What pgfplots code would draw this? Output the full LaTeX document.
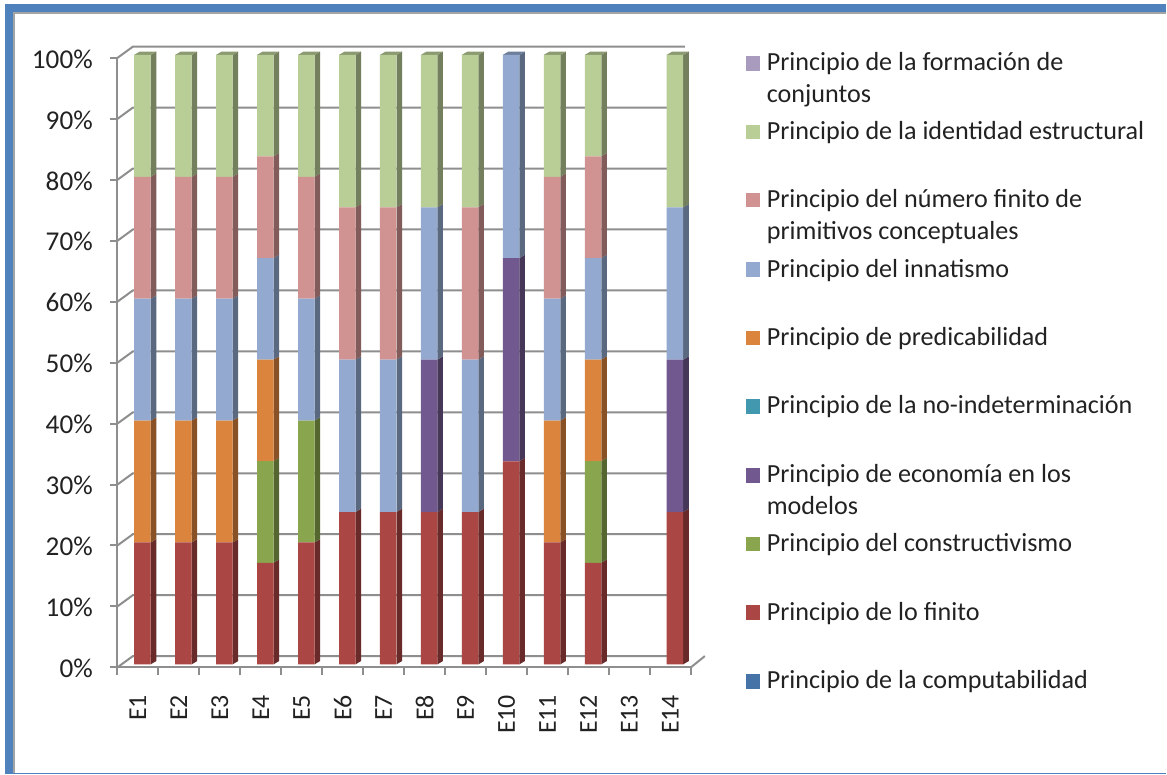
\documentclass[border=0pt]{standalone}
\usepackage{fontspec}
\setmainfont{Carlito}
\usepackage{pgfplots}
\usepackage{pgfplotstable}
\pgfplotsset{compat=1.18}

% face colours of each series: front, side (S) and top (T)
\definecolor{comp}{HTML}{4572A7}
\definecolor{fin}{HTML}{AA4643}
\definecolor{con}{HTML}{89A54E}
\definecolor{eco}{HTML}{71588F}
\definecolor{ind}{HTML}{4198AF}
\definecolor{pre}{HTML}{DB843D}
\definecolor{inn}{HTML}{93A9CF}
\definecolor{num}{HTML}{D19392}
\definecolor{ide}{HTML}{B9CD96}
\definecolor{for}{HTML}{A99BBD}
\definecolor{wall}{HTML}{8E8E8E}
\definecolor{frameblue}{HTML}{4F81BD}
\definecolor{ink}{HTML}{222222}
\pgfplotsinvokeforeach{comp,fin,con,eco,ind,pre,inn,num,ide,for}{
  \colorlet{#1S}{#1!62!black}
  \colorlet{#1T}{#1!75!black}
}

% share of each principle per experiment, in percent
\pgfplotstableread{
name comp fin con eco ind pre inn num ide for
E1 0 20 0 0 0 20 20 20 20 0
E2 0 20 0 0 0 20 20 20 20 0
E3 0 20 0 0 0 20 20 20 20 0
E4 0 16.67 16.67 0 0 16.67 16.67 16.67 16.65 0
E5 0 20 20 0 0 0 20 20 20 0
E6 0 25 0 0 0 0 25 25 25 0
E7 0 25 0 0 0 0 25 25 25 0
E8 0 25 0 25 0 0 25 0 25 0
E9 0 25 0 0 0 0 25 25 25 0
E10 0 33.33 0 33.33 0 0 33.34 0 0 0
E11 0 20 0 0 0 20 20 20 20 0
E12 0 16.67 16.67 0 0 16.67 16.67 16.67 16.65 0
E13 0 0 0 0 0 0 0 0 0 0
E14 0 25 0 25 0 0 25 0 25 0
}\shares

% one pixel of the 1167 x 775 canvas
\newlength{\px}\setlength{\px}{0.75pt}

\newcommand{\legentry}[3]{% colour, y of swatch, text
  \fill[#1] (746.7\px,{-(#2+7.3)*\px}) rectangle (760.3\px,{-(#2-7.3)*\px});
  \node[anchor=base west,inner sep=0pt,text=ink,font=\fontsize{19.6pt}{24pt}\selectfont,align=left]
    at (767.3\px,{-(#2+7.4)*\px}) {#3};
}
\newcommand{\legcont}[2]{% y, continuation line
  \node[anchor=base west,inner sep=0pt,text=ink,font=\fontsize{19.6pt}{24pt}\selectfont]
    at (767.3\px,{-(#1+7.4)*\px}) {#2};
}

\begin{document}
\begin{tikzpicture}[x=1pt,y=1pt]
% canvas and window frame
\path (0,0) rectangle (1167\px,-775\px);
\fill[frameblue] (5\px,-4\px) rectangle (1167\px,-775\px);
\fill[white] (15\px,-14.5\px) rectangle (1167\px,-773.5\px);
\draw[wall!80!white,line width=2.2\px] (14.4\px,-773.5\px) -- (14.4\px,-13.4\px) -- (1167\px,-13.4\px);

% walls, gridlines, ticks, labels and the side and top faces of the columns
\begin{axis}[
  at={(117.5\px,-668\px)},anchor=origin,
  scale only axis,width=574\px,height=610\px,
  xmin=0.5,xmax=14.5,ymin=0,ymax=100,
  clip=false,
  axis lines=left,
  axis line style={wall,line width=2\px,-},
  xtick={1,...,14},
  xticklabels={E1,E2,E3,E4,E5,E6,E7,E8,E9,E10,E11,E12,E13,E14},
  minor xtick={0.5,1.5,...,14.5},
  major x tick style={draw=none},
  minor x tick style={wall,line width=2\px},
  minor tick length=8\px,
  ytick={0,10,...,100},
  yticklabels={0\%,10\%,20\%,30\%,40\%,50\%,60\%,70\%,80\%,90\%,100\%},
  y tick style={wall,line width=2\px},
  major tick length=7\px,
  tick align=outside,
  xticklabel style={rotate=90,anchor=east,yshift=0\px,xshift=-16\px,text=ink,font=\fontsize{19.4pt}{22pt}\selectfont},
  yticklabel style={anchor=east,xshift=-13\px,yshift=-1\px,text=ink,font=\fontsize{20.4pt}{22pt}\selectfont},
]
% floor, back wall and side wall lines
\pgfplotsforeachungrouped \g in {0,10,...,100}{
  \edef\gridline{\noexpand\draw[wall,line width=2\px]
    (axis cs:0.5,\g) -- ++(15.5\px,11.3\px) -- ++(573\px,0);}
  \gridline
}
\draw[wall,line width=2\px] (axis cs:14.5,0) -- ++(14\px,11.3\px);

% side faces and the closing top face of every column
\pgfplotsforeachungrouped \r in {0,...,13}{
  \def\cum{0}
  \def\last{}
  \pgfmathsetmacro{\xl}{\r+1+0.112+0.202}
  \pgfmathsetmacro{\xr}{\xl+0.135}
  \pgfmathsetmacro{\xb}{\xl-0.404}
  \pgfplotsforeachungrouped \c in {comp,fin,con,eco,ind,pre,inn,num,ide,for}{
    \pgfplotstablegetelem{\r}{\c}\of\shares
    \ifdim\pgfplotsretval pt>0pt
      \pgfmathsetmacro{\ya}{\cum+0.5}
      \pgfmathsetmacro{\yb}{\cum+\pgfplotsretval+0.5}
      \pgfmathsetmacro{\yc}{\ya+0.54}
      \pgfmathsetmacro{\yd}{\yb+0.54}
      \edef\face{\noexpand\addplot[draw=none,fill=\c S,forget plot] coordinates
        {(\xl,\ya)(\xr,\yc)(\xr,\yd)(\xl,\yb)} -- cycle;}
      \face
      \pgfmathsetmacro{\cum}{\cum+\pgfplotsretval}
      \edef\last{\c}
    \fi
  }
  \ifx\last\empty\else
    \pgfmathsetmacro{\ya}{\cum+0.5}
    \pgfmathsetmacro{\yc}{\ya+0.54}
    \edef\face{\noexpand\addplot[draw=none,fill=\last T,forget plot] coordinates
      {(\xb,\ya)(\xl,\ya)(\xr,\yc)(\xb+0.135,\yc)} -- cycle;}
    \face
  \fi
}
\end{axis}

% front faces of the stacked columns
\begin{axis}[
  at={(122.1\px,-665\px)},anchor=origin,
  scale only axis,width=574\px,height=610\px,
  xmin=0.5,xmax=14.5,ymin=0,ymax=100,
  hide axis,clip=false,
  ybar stacked,bar width=16.5\px,
]
\pgfplotsinvokeforeach{comp,fin,con,eco,ind,pre,inn,num,ide,for}{
  \addplot[draw=none,fill=#1] table[x expr=\coordindex+1,y=#1] {\shares};
}
\end{axis}

% legend
\legentry{for}{63.3}{Principio de la formación de}
\legcont{95.3}{conjuntos}
\legentry{ide}{132}{Principio de la identidad estructural}
\legentry{num}{200.3}{Principio del número finito de}
\legcont{232.6}{primitivos conceptuales}
\legentry{inn}{270}{Principio del innatismo}
\legentry{pre}{338.3}{Principio de predicabilidad}
\legentry{ind}{406.7}{Principio de la no-indeterminación}
\legentry{eco}{475.7}{Principio de economía en los}
\legcont{507.9}{modelos}
\legentry{con}{544.7}{Principio del constructivismo}
\legentry{fin}{613.3}{Principio de lo finito}
\legentry{comp}{682}{Principio de la computabilidad}
\end{tikzpicture}
\end{document}
